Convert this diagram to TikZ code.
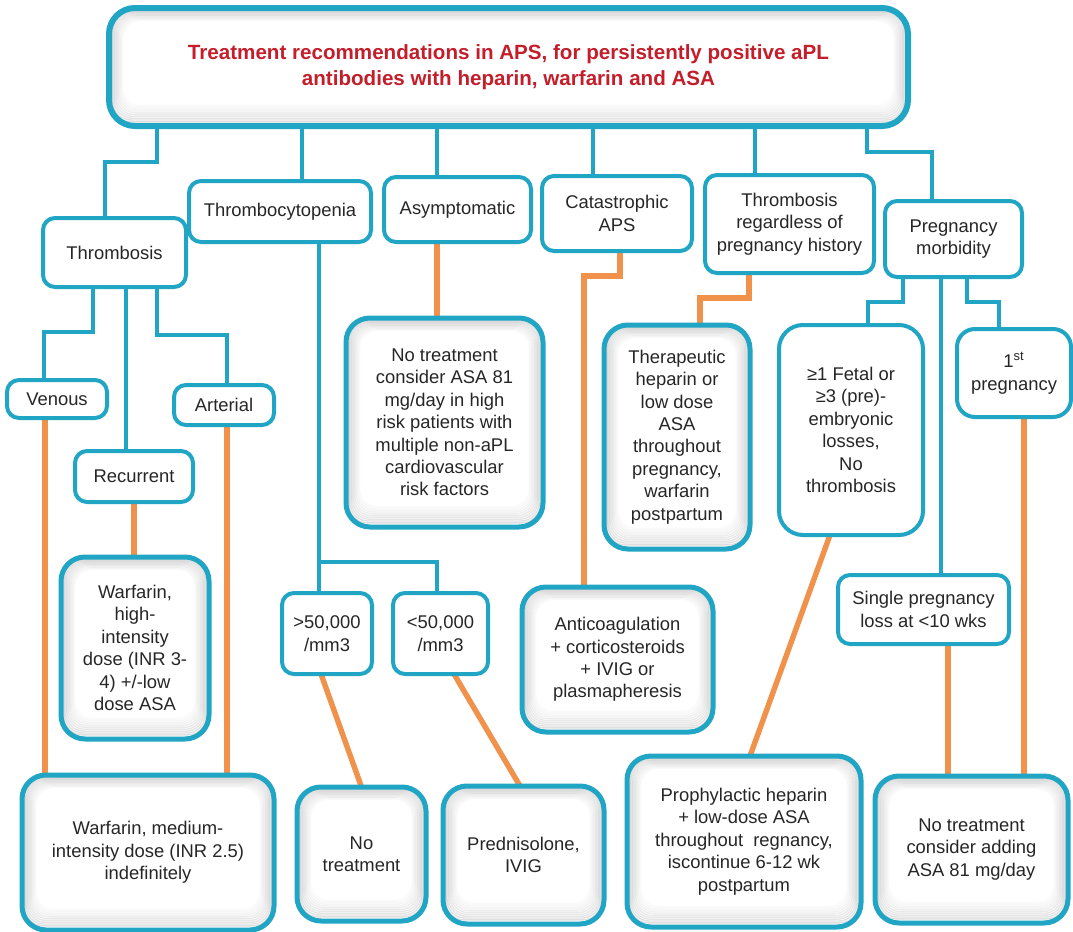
\documentclass[tikz,border=0pt]{standalone}
\usepackage{fontspec}
\setmainfont{Liberation Sans}
\usepackage{tikz}
\usetikzlibrary{calc, backgrounds}
\definecolor{apsblue}{HTML}{21A5C4}
\definecolor{apsorange}{HTML}{F0924B}
\definecolor{apsred}{HTML}{C41E2B}
\definecolor{shadegray}{HTML}{3A3A3A}

\begin{document}
\begin{tikzpicture}[x=0.5pt, y=-0.5pt,
    base/.style={
        rectangle, draw=apsblue, fill=white, align=center, text=black!85,
        font=\fontsize{9.2}{11.2}\selectfont, inner sep=2pt, outer sep=0pt,
    },
    choice/.style={base, line width=2pt, rounded corners=6pt},
    advice/.style={base, line width=2.5pt, rounded corners=12pt, inshade},
    inshade/.style={path picture={
        \foreach \d [evaluate=\d as \o using 0.16*(7.8-\d)/6.4] in {1.4,2.0,...,7.4}{
            \draw[shadegray, draw opacity=\o, line width=0.7pt, rounded corners=9pt]
                ($(path picture bounding box.south west)+(\d pt,1.5*\d pt)$) rectangle
                ($(path picture bounding box.north east)+(-\d pt,-0.9*\d pt)$);
        }}},
    sz/.style 2 args={minimum width=#1*0.5pt, minimum height=#2*0.5pt},
    blueline/.style={draw=apsblue, line width=2pt},
    orangeline/.style={draw=apsorange, line width=2.7pt},
]
\useasboundingbox (0,0) rectangle (1073,932);

% Title
\node[advice, line width=3pt, rounded corners=13pt, sz={799}{118},
      font=\fontsize{10.3}{13}\selectfont\bfseries, text=apsred] (title) at (508.5,67)
      {Treatment recommendations in APS, for persistently positive aPL\\
       antibodies with heparin, warfarin and ASA};

% Clinical situations
\node[choice, sz={143}{69}] (thr)   at (114.5,252.5) {Thrombosis};
\node[choice, sz={182}{61}] (tcp)   at (280,211.5)   {Thrombocytopenia};
\node[choice, sz={147}{65}] (asy)   at (457.5,209.5) {Asymptomatic};
\node[choice, sz={150}{75}] (caps)  at (617,213.5)   {Catastrophic\\APS};
\node[choice, sz={169}{98}] (threg) at (789.5,224)   {Thrombosis\\regardless of\\pregnancy history};
\node[choice, sz={137}{76}] (preg)  at (953.5,239)   {Pregnancy\\morbidity};

% Sub-groups
\node[choice, sz={100}{38}] (venous) at (57,399)     {Venous};
\node[choice, sz={100}{40}] (art)    at (224,405)    {Arterial};
\node[choice, sz={118}{51}] (rec)    at (134,476.5)  {Recurrent};
\node[choice, sz={90}{81}]  (gt50)   at (327,633.5)  {>50,000\\/mm3};
\node[choice, sz={95}{81}]  (lt50)   at (440.5,633.5) {<50,000\\/mm3};
\node[choice, rounded corners=12pt, sz={144}{210}] (fetal) at (851,430)
      {≥1 Fetal or\\≥3 (pre)-\\embryonic\\losses,\\No\\thrombosis};
\node[choice, rounded corners=9pt, sz={114}{88}] (first) at (1014,373)
      {1\textsuperscript{st}\\pregnancy};
\node[choice, sz={171}{69}] (single) at (923.5,609.5) {Single pregnancy\\loss at <10 wks};

% Treatments
\node[advice, sz={197}{209}] (asyt) at (444.5,422.5)
      {No treatment\\consider ASA 81\\mg/day in high\\risk patients with\\multiple non-aPL\\cardiovascular\\risk factors};
\node[advice, sz={146}{224}] (ther) at (677,437)
      {Therapeutic\\heparin or\\low dose\\ASA\\throughout\\pregnancy,\\warfarin\\postpartum};
\node[advice, sz={148}{182}] (whigh) at (135,648)
      {Warfarin,\\high-\\intensity\\dose (INR 3-\\4) +/-low\\dose ASA};
\node[advice, sz={191}{145}] (antic) at (617.5,659.5)
      {Anticoagulation\\+ corticosteroids\\+ IVIG or\\plasmapheresis};
\node[advice, sz={252}{155}] (wmed) at (148,852.5)
      {Warfarin, medium-\\intensity dose (INR 2.5)\\indefinitely};
\node[advice, sz={129}{134}] (nott) at (361.5,854) {No\\treatment};
\node[advice, sz={161}{138}] (pred) at (523.5,855) {Prednisolone,\\IVIG};
\node[advice, sz={234}{171}] (proph) at (744,841.5)
      {Prophylactic heparin\\+ low-dose ASA\\throughout\ \ regnancy,\\iscontinue 6-12 wk\\postpartum};
\node[advice, sz={193}{147}] (nadd) at (971.5,849.5)
      {No treatment\\consider adding\\ASA 81 mg/day};

% Connectors
\begin{scope}[on background layer]
    \draw[blueline] ([xshift=24pt]title.south west) -- ++(0,36) -| ([xshift=-5pt]thr.north);
    \draw[blueline] ([xshift=11pt]tcp.north) -- ([xshift=11pt]tcp.north |- title.south);
    \draw[blueline] ([xshift=-10.25pt]asy.north) -- ([xshift=-10.25pt]asy.north |- title.south);
    \draw[blueline] ([xshift=-12pt]caps.north) -- ([xshift=-12pt]caps.north |- title.south);
    \draw[blueline] ([xshift=-17.25pt]threg.north) -- ([xshift=-17.25pt]threg.north |- title.south);
    \draw[blueline] ([xshift=-20.5pt]title.south east) -- ++(0,26) -| ([xshift=-10.75pt]preg.north);

    \draw[blueline] ([xshift=-10.75pt]thr.south) -- ++(0,45) -| ([xshift=-6.5pt]venous.north);
    \draw[blueline] ([xshift=5.75pt]thr.south) -- ([xshift=5.75pt]thr.south |- rec.north);
    \draw[blueline] ([xshift=21.25pt]thr.south) -- ++(0,48) -| ([xshift=1.5pt]art.north);
    \draw[orangeline] ([xshift=-6pt]venous.south) -- ([xshift=-6pt]venous.south |- wmed.north);
    \draw[orangeline] ([xshift=1.5pt]art.south) -- ([xshift=1.5pt]art.south |- wmed.north);
    \draw[orangeline] (rec.south) -- (rec.south |- whigh.north);

    \draw[blueline] ([xshift=19.5pt]tcp.south) -- ([xshift=19.5pt]tcp.south |- gt50.north);
    \draw[blueline] ([xshift=19.5pt]tcp.south) ++(0,320) -| ([xshift=-1.75pt]lt50.north);
    \draw[orangeline] ([xshift=-3pt]gt50.south) -- (nott.north);
    \draw[orangeline] ([xshift=6.75pt]lt50.south) -- ([xshift=-1.75pt]pred.north);

    \draw[orangeline] ([xshift=-10.25pt]asy.south) -- ([xshift=-10.25pt]asy.south |- asyt.north);
    \draw[orangeline] ([xshift=1.5pt]caps.south) -- ++(0,25) -| ([xshift=-16.75pt]antic.north);
    \draw[orangeline] ([xshift=-20.25pt]threg.south) -- ++(0,25) -| ([xshift=11.5pt]ther.north);

    \draw[blueline] ([xshift=-25.25pt]preg.south) -- ++(0,25) -| ([xshift=8.5pt]fetal.north);
    \draw[blueline] ([xshift=-6.25pt]preg.south) -- ([xshift=-6.25pt]preg.south |- single.north);
    \draw[blueline] ([xshift=6.75pt]preg.south) -- ++(0,25) -| ([xshift=-7.5pt]first.north);
    \draw[orangeline] ([xshift=-10.5pt]fetal.south) -- ([xshift=3pt]proph.north);
    \draw[orangeline] ([xshift=12.25pt]single.south) -- ([xshift=12.25pt]single.south |- nadd.north);
    \draw[orangeline] ([xshift=5pt]first.south) -- ([xshift=5pt]first.south |- nadd.north);
\end{scope}

\end{tikzpicture}
\end{document}
